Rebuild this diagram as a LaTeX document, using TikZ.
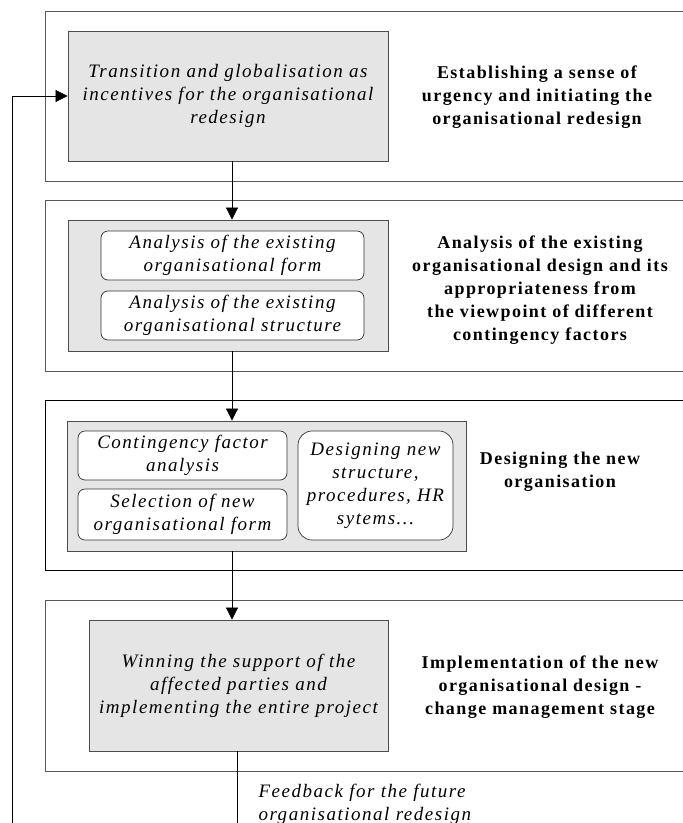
\documentclass[tikz,border=0pt]{standalone}
\usepackage{fontspec}
\setmainfont[LetterSpace=8]{Liberation Serif}
\usetikzlibrary{arrows.meta}

\begin{document}
\begin{tikzpicture}[x=1pt,y=-1pt,
  stage/.style={draw=black!65,line width=0.8pt},
  graybox/.style={draw=black!70,fill=black!10,line width=0.8pt,inner sep=0pt},
  subbox/.style={draw=black!80,fill=white,rounded corners=7pt,line width=0.7pt,inner sep=0pt},
  itext/.style={font=\fontsize{19}{23}\selectfont\itshape,align=center},
  btext/.style={font=\fontsize{18}{23}\selectfont\bfseries,align=center},
  flow/.style={-{Triangle[width=12pt,length=12pt]},line width=0.7pt}]
\useasboundingbox (0,0) rectangle (683,823);

% stage frames
\draw[stage] (45,11) rectangle (700,181);
\draw[stage] (45,200) rectangle (700,371);
\draw[stage,draw=black] (45,400) rectangle (700,570);
\draw[stage] (45,600) rectangle (700,771);

% stage 1
\node[graybox,itext,minimum width=320pt,minimum height=130pt] (g1) at (228,96)
  {Transition and globalisation as\\incentives for the organisational\\redesign};
\node[btext] (l1) at (537,97)
  {Establishing a sense of\\urgency and initiating the\\organisational redesign};

% stage 2
\node[graybox,minimum width=320pt,minimum height=131pt] (g2) at (228,285.5) {};
\node[subbox,itext,minimum width=263pt,minimum height=49pt] (a1) at (232.5,255.5)
  {Analysis of the existing\\organisational form};
\node[subbox,itext,minimum width=263pt,minimum height=49pt] (a2) at (232.5,315.5)
  {Analysis of the existing\\organisational structure};
\node[btext] (l2) at (540,290)
  {Analysis of the existing\\organisational design and its\\appropriateness from\\the viewpoint of different\\contingency factors};

% stage 3
\node[graybox,minimum width=399pt,minimum height=130pt] (g3) at (266.5,486) {};
\node[subbox,itext,minimum width=209pt,minimum height=49pt] (c1) at (182.5,455.5)
  {Contingency factor\\analysis};
\node[subbox,itext,minimum width=209pt,minimum height=51pt] (c2) at (182.5,514.5)
  {Selection of new\\organisational form};
\node[subbox,itext,rounded corners=14pt,minimum width=155pt,minimum height=109pt] (c3) at (375.5,485.5)
  {Designing new\\structure,\\procedures, HR\\sytems...};
\node[btext] (l3) at (560,472)
  {Designing the new\\organisation};

% stage 4
\node[graybox,itext,minimum width=299pt,minimum height=131pt] (g4) at (238.5,685.5)
  {Winning the support of the\\affected parties and\\implementing the entire project};
\node[btext] (l4) at (540,687)
  {Implementation of the new\\organisational design -\\change management stage};

\node[itext,align=left,anchor=west] (fb) at (255,804)
  {Feedback for the future\\organisational redesign};

% connectors
\coordinate (ax) at (232,0);
\coordinate (fx) at (237,0);
\draw[flow] (g1.south -| ax) -- (g2.north -| ax);
\draw[flow] (g2.south -| ax) -- (g3.north -| ax);
\draw[flow] (g3.south -| ax) -- (g4.north -| ax);
\draw[flow] (g4.south -| fx) |- (12,840) |- (g1.west);
\end{tikzpicture}
\end{document}
